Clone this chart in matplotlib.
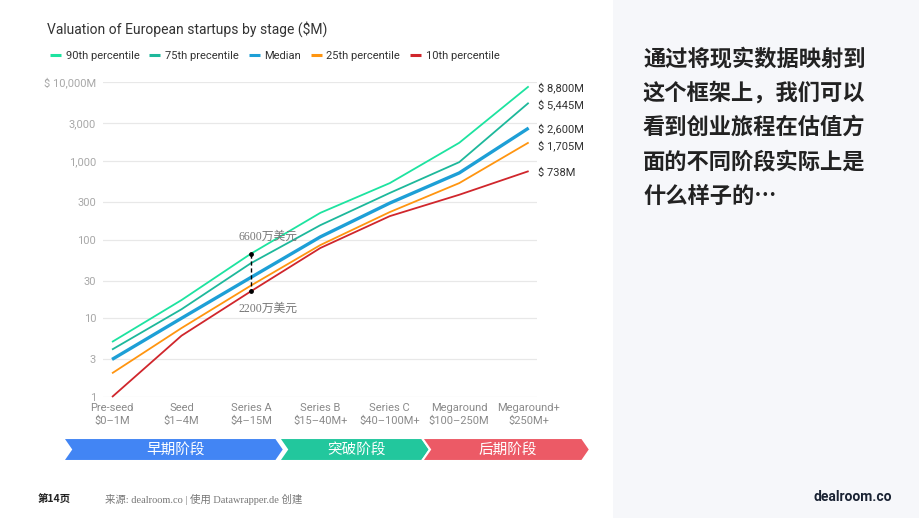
"""
Valuation of European startups by stage - recreated chart.
"""

import matplotlib.pyplot as plt
from matplotlib.patches import Polygon, Rectangle
import numpy as np

plt.rcParams['font.family'] = ['Roboto', 'Noto Sans CJK SC', 'DejaVu Sans']

# Data
stages = ['Pre-seed\n$0\u20131M', 'Seed\n$1\u20134M', 'Series A\n$4\u201315M', 'Series B\n$15\u201340M+',
          'Series C\n$40\u2013100M+', 'Megaround\n$100\u2013250M', 'Megaround+\n$250M+']
p90 = [5, 17, 66, 218, 520, 1690, 8800]
p75 = [4, 13, 50, 152, 390, 960, 5445]
median = [3, 10, 33, 108, 290, 700, 2600]
p25 = [2, 7.5, 26, 85, 223, 520, 1705]
p10 = [1, 6, 22, 78, 198, 370, 738]
end_labels = ['$ 8,800M', '$ 5,445M', '$ 2,600M', '$ 1,705M', '$ 738M']
series_names = ['90th percentile', '75th precentile', 'Median', '25th percentile', '10th percentile']

yticks = [1, 3, 10, 30, 100, 300, 1000, 3000, 10000]
ytick_labels = ['1', '3', '10', '30', '100', '300', '1,000', '3,000', '$ 10,000M']

phases = ['早期阶段', '突破阶段', '后期阶段']
right_text = ['通过将现实数据映射到', '这个框架上，我们可以', '看到创业旅程在估值方',
              '面的不同阶段实际上是', '什么样子的…']

# Colors
colors = ['#1de3a0', '#1db89b', '#1d9fd6', '#ff9510', '#d0262c']
widths = [1.3, 1.3, 2.4, 1.3, 1.3]
phase_colors = ['#4285f4', '#22c79d', '#ec5a66']

W, H = 920, 518
fig = plt.figure(figsize=(9.2, 5.18), dpi=100)
fig.patch.set_facecolor('white')

def fx(px):
    return px / W

def fy(py):
    return 1 - py / H

# right light panel
fig.patches.append(Rectangle((fx(613), 0), 1 - fx(613), 1, transform=fig.transFigure,
                             facecolor='#f6f7fa', edgecolor='none', zorder=0))

# main axes
ax = fig.add_axes([fx(103), fy(397), fx(537) - fx(103), fy(82) - fy(397)])
ax.set_yscale('log')
ax.set_ylim(1, 10000)
ax.set_xlim(-0.13, 6.12)
x = np.arange(len(stages))

series = [p90, p75, median, p25, p10]
lines = []
for vals, c, lw, name in zip(series, colors, widths, series_names):
    ln, = ax.plot(x, vals, color=c, lw=lw, clip_on=False, zorder=3, label=name,
                  solid_capstyle='butt')
    lines.append(ln)

ax.set_yticks(yticks)
ax.set_yticklabels(ytick_labels)
ax.yaxis.set_minor_locator(plt.NullLocator())
ax.set_xticks(x)
ax.set_xticklabels(stages, linespacing=1.45)
ax.tick_params(axis='y', length=0, pad=5, labelsize=8, labelcolor='#a8a8a8')
ax.tick_params(axis='x', length=0, pad=4, labelsize=8, labelcolor='#8a8a8a')
ax.grid(axis='y', color='#e8e8e8', lw=0.9)
ax.grid(axis='x', visible=False)
for s in ax.spines.values():
    s.set_visible(False)

# end labels
label_y = [88, 105, 129, 146, 173]
for txt, py in zip(end_labels, label_y):
    fig.text(fx(538), fy(py), txt, fontsize=8, color='#333333', va='center', ha='left')

# annotation at Series A
ax.plot([2, 2], [p90[2], p10[2]], color='black', lw=1, ls=(0, (3, 2)), zorder=4)
ax.scatter([2, 2], [p90[2], p10[2]], color='black', s=6, zorder=5)
ann_font = ['Liberation Serif', 'Noto Sans CJK SC']
fig.text(fx(268), fy(237), '6600万美元', fontsize=8.5, color='#777777',
         ha='center', va='center', family=ann_font)
fig.text(fx(268), fy(309), '2200万美元', fontsize=8.5, color='#777777',
         ha='center', va='center', family=ann_font)

# title and legend
fig.text(fx(47), fy(29), 'Valuation of European startups by stage ($M)', fontsize=10,
         color='#333333', va='center', ha='left')
leg = fig.legend(handles=lines, loc='center left', bbox_to_anchor=(fx(40), fy(56)), ncol=5,
                 frameon=False, fontsize=8, handlelength=1.0, handletextpad=0.4,
                 columnspacing=0.9, labelcolor='#333333')
for h in leg.legend_handles:
    h.set_linewidth(2.2)

# phase chevrons
top, bot = 438, 461
mid = (top + bot) / 2
segs = [(63, 284), (279, 430), (422, 590)]
for (x0, x1), c, name in zip(segs, phase_colors, phases):
    d = 8
    pts = [(x0, top), (x1 - d, top), (x1, mid), (x1 - d, bot), (x0, bot), (x0 + d, mid)]
    pts = [(fx(a), fy(b)) for a, b in pts]
    fig.patches.append(Polygon(pts, closed=True, transform=fig.transFigure,
                               facecolor=c, edgecolor='white', lw=1.5, zorder=2))
    fig.text(fx((x0 + x1) / 2 + 2), fy(mid), name, fontsize=10.5, color='white',
             ha='center', va='center', family=['Noto Sans CJK SC'])

# right side text
for i, line in enumerate(right_text):
    fig.text(fx(643), fy(59 + i * 34.3), line, fontsize=16, fontweight='bold', color='#222222',
             ha='left', va='center', family=['Noto Sans CJK SC', 'DejaVu Sans'])

# footer
fig.text(fx(38), fy(499), '第14页', fontsize=7.5, fontweight='bold', color='#222222',
         ha='left', va='center', family=['Noto Sans CJK SC'])
fig.text(fx(105), fy(499), '来源: dealroom.co | 使用 Datawrapper.de 创建', fontsize=7.5,
         color='#777777', ha='left', va='center', family=ann_font)
fig.text(fx(892), fy(497), 'dealroom.co', fontsize=10, fontweight='bold', color='#1a2333',
         ha='right', va='center', family=['Roboto'])

fig.savefig('out.png', dpi=100, facecolor=fig.get_facecolor())
